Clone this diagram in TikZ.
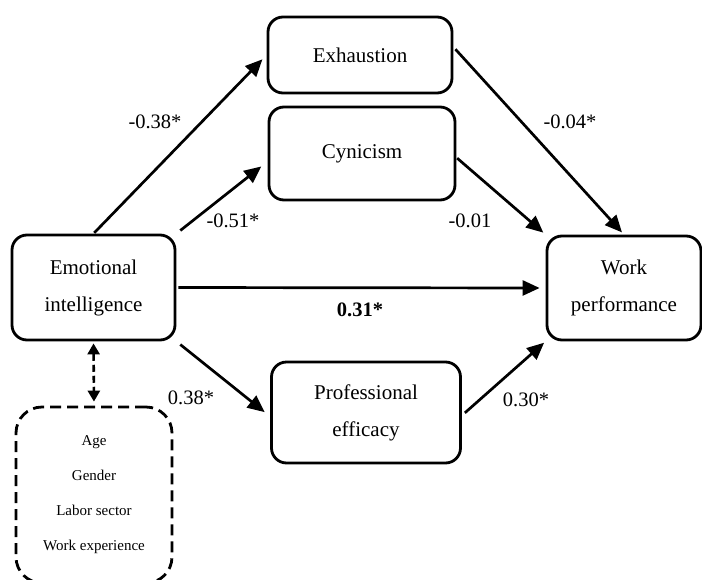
\documentclass[tikz,border=0pt]{standalone}
\usepackage{fontspec}
\setmainfont{Liberation Serif}
\usetikzlibrary{positioning,calc,arrows.meta}

\begin{document}
\begin{tikzpicture}[x=1pt,y=-1pt,
    var/.style={draw, line width=2.8pt, rounded corners=15pt, inner sep=0pt, align=center,
        font=\fontsize{21}{37}\selectfont},
    ctrlbox/.style={draw, line width=2.8pt, dash pattern=on 11pt off 6pt, rounded corners=26pt,
        inner sep=0pt, align=center, font=\fontsize{15}{35}\selectfont},
    path/.style={line width=2.7pt, -{Triangle[length=17pt,width=15pt]}},
    coef/.style={font=\fontsize{20.5}{24}\selectfont}]
    \useasboundingbox (0,0) rectangle (702,579);

    % boxes
    \node[var, minimum width=163pt, minimum height=105pt] (ei) at (93.5,287.5) {Emotional\\intelligence};
    \node[var, minimum width=184pt, minimum height=76pt] (exh) at (360,55) {Exhaustion};
    \node[var, minimum width=186pt, minimum height=93pt] (cyn) at (362,153.5) {Cynicism};
    \node[var, minimum width=189pt, minimum height=101pt] (pe) at (366,412.5) {Professional\\efficacy};
    \node[var, minimum width=154pt, minimum height=104pt] (wp) at (624,288) {Work\\performance};
    \node[ctrlbox, minimum width=156pt, minimum height=176pt] (ctrl) at (94,495)
        {Age\\Gender\\Labor sector\\Work experience};

    % paths
    \draw[path, shorten <=1pt, shorten >=6pt] (ei.north) -- (exh.west);
    \draw[path, shorten <=5pt, shorten >=8pt] (ei.north east) -- ([yshift=-8pt]cyn.west);
    \draw[path, shorten <=2pt, shorten >=6pt] (ei.east) -- (wp.west);
    \draw[path, shorten <=5pt, shorten >=7pt] (ei.south east) -- ([yshift=-4pt]pe.west);
    \draw[path, shorten <=4pt, shorten >=2pt] ([yshift=-3pt]pe.east) -- (wp.south west);
    \draw[path, shorten <=3pt, shorten >=3pt] ([yshift=8pt]exh.east) -- (wp.north);
    \draw[path, shorten <=1pt, shorten >=3pt] ([yshift=-4pt]cyn.east) -- (wp.north west);
    \draw[line width=2.6pt, dash pattern=on 7pt off 4pt, {Triangle[length=11pt,width=12pt]}-{Triangle[length=11pt,width=12pt]},
        shorten <=2pt, shorten >=4pt] (ei.south) -- (ctrl.north);

    % coefficients
    \node[coef] (c1) at (155,122) {-0.38*};
    \node[coef] (c2) at (233,221) {-0.51*};
    \node[coef] (c3) at (470,221) {-0.01};
    \node[coef] (c4) at (570,122) {-0.04*};
    \node[coef] (c5) at (360,310) {\bfseries 0.31*};
    \node[coef] (c6) at (191,398) {0.38*};
    \node[coef] (c7) at (526,400) {0.30*};
\end{tikzpicture}
\end{document}
